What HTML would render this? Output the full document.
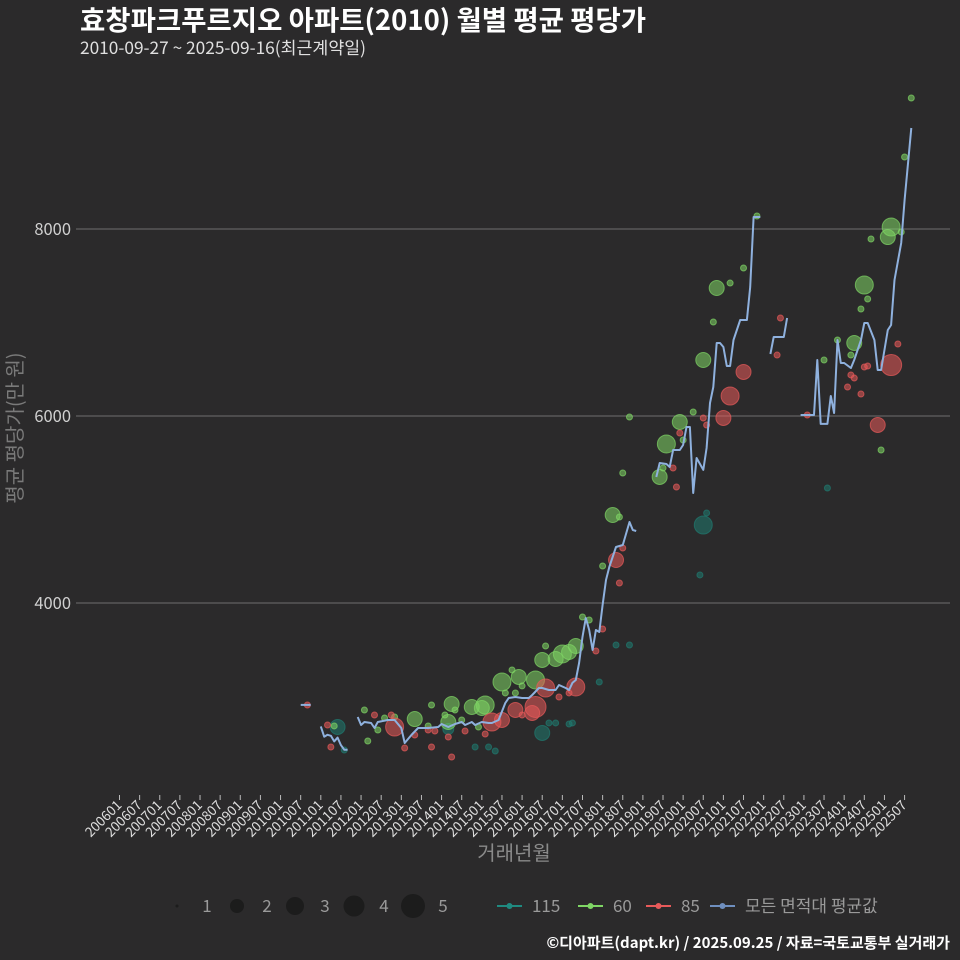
<!DOCTYPE html>
<html><head><meta charset="utf-8">
<style>
html,body{margin:0;padding:0;background:#2b2a2b;}
svg{display:block;font-family:"Noto Sans CJK KR","Liberation Sans",sans-serif;}
</style></head>
<body>
<svg id="chart" width="960" height="960" viewBox="0 0 960 960">
<rect width="960" height="960" fill="#2b2a2b"/>
<text x="80" y="30" fill="#ffffff" font-size="27.5" font-weight="bold">효창파크푸르지오 아파트(2010) 월별 평균 평당가</text>
<text x="80" y="54" fill="#e0e0e0" font-size="17.3">2010-09-27 ~ 2025-09-16(최근계약일)</text>
<g id="grid"></g>
<g id="yticks"></g>
<g id="xticks"></g>
<text x="0" y="0" transform="translate(22,428) rotate(-90)" text-anchor="middle" fill="#7a7a7a" font-size="20">평균 평당가(만 원)</text>
<text x="514" y="860" text-anchor="middle" fill="#8a8a8a" font-size="20">거래년월</text>
<g id="bubbles"></g>
<g id="lines"></g>
<g id="legend"></g>
<text x="950" y="948" text-anchor="end" fill="#ffffff" font-size="15" font-weight="bold">©디아파트(dapt.kr) / 2025.09.25 / 자료=국토교통부 실거래가</text>
</svg>
<script>
const yTicks=[4000,6000,8000];
const xTickLabels=[];for(let y=2006;y<=2025;y++){xTickLabels.push(y+"01");xTickLabels.push(y+"07");}
// average line (null = gap)
const lineMonths=["2010-07","2010-10",null,
"2011-01","2011-02","2011-03","2011-04","2011-05","2011-06","2011-07","2011-08","2011-09",null,
"2011-12","2012-01","2012-02","2012-04","2012-05","2012-06","2012-09","2012-11","2013-01","2013-02","2013-04","2013-06","2013-09","2013-12","2014-01","2014-03","2014-05","2014-07","2014-08","2014-10","2014-11","2015-01","2015-03","2015-04","2015-06","2015-08","2015-09","2015-11","2016-01","2016-03","2016-04","2016-06","2016-07","2016-09","2016-11","2016-12","2017-02","2017-03","2017-04","2017-05","2017-06","2017-07","2017-08","2017-09","2017-10","2017-11","2017-12","2018-01","2018-02","2018-03","2018-05","2018-07","2018-09","2018-10","2018-11",null,
"2019-05","2019-06","2019-08","2019-09","2019-10","2019-12","2020-01","2020-02","2020-03","2020-04","2020-05","2020-07","2020-08","2020-09","2020-10","2020-11","2020-12","2021-01","2021-02","2021-03","2021-04","2021-06","2021-08","2021-09","2021-10","2021-12",null,
"2022-03","2022-04","2022-07","2022-08",null,
"2022-12","2023-04","2023-05","2023-06","2023-08","2023-09","2023-10","2023-11","2023-12","2024-01","2024-03","2024-04","2024-06","2024-07","2024-08","2024-10","2024-11","2024-12","2025-02","2025-03","2025-04","2025-06","2025-07","2025-09"];
const lineValues=[2910,2910,null,
2680,2570,2590,2580,2520,2560,2480,2430,2430,null,
2781,2695,2727,2717,2663,2727,2749,2749,2663,2503,2588,2663,2663,2674,2706,2674,2706,2727,2695,2727,2695,2727,2717,2717,2749,2931,2984,2995,2984,2984,3016,3091,3091,3070,3070,3123,3091,3070,3145,3177,3358,3637,3840,3711,3497,3711,3690,3979,4246,4385,4599,4620,4866,4781,4770,null,
5348,5497,5487,5455,5636,5636,5690,5882,5882,5177,5551,5423,5658,6139,6310,6781,6781,6738,6535,6535,6813,7027,7027,7380,8128,8128,null,
6663,6845,6845,7048,null,
6011,6011,6599,5915,5915,6214,6032,6813,6567,6567,6513,6599,6813,6995,6995,6813,6492,6492,6920,6973,7455,7850,8310,9080];
// area 115
const t115Months=["2011-06","2011-08","2014-03","2014-11","2015-03","2015-05","2016-07","2016-09","2016-11","2017-03","2017-04","2017-12","2018-05","2018-09","2020-06","2020-07","2020-08","2023-08"];
const t115Values=[2674,2428,2652,2460,2460,2417,2610,2717,2717,2706,2717,3155,3551,3551,4300,4834,4963,5230];
const t115Counts=[3,1,2,1,1,1,3,1,1,1,1,1,1,1,1,4,1,1];
// area 60
const g60Months=["2011-05","2012-02","2012-03","2012-06","2012-08","2012-11","2013-05","2013-09","2013-10","2014-02","2014-03","2014-04","2014-05","2014-07","2014-10","2014-12","2015-01","2015-02","2015-07","2015-08","2015-10","2015-11","2015-12","2016-01","2016-05","2016-07","2016-08","2016-11","2017-01","2017-03","2017-05","2017-07","2017-09","2018-01","2018-04","2018-06","2018-07","2018-09","2019-06","2019-07","2019-08","2019-12","2020-01","2020-04","2020-07","2020-10","2020-11","2021-03","2021-07","2021-11","2023-07","2023-11","2024-03","2024-04","2024-06","2024-07","2024-08","2024-09","2024-12","2025-02","2025-03","2025-06","2025-07","2025-09"];
const g60Values=[2685,2856,2524,2642,2770,2781,2759,2685,2909,2802,2727,2920,2856,2749,2888,2674,2877,2909,3155,3038,3284,3038,3209,3113,3177,3391,3540,3401,3455,3476,3540,3850,3818,4396,4941,4920,5390,5989,5348,5444,5701,5936,5743,6043,6599,7005,7369,7422,7583,8139,6599,6813,6652,6781,7144,7401,7251,7893,5636,7914,8021,7968,8770,9401];
const g60Counts=[1,1,1,1,1,1,3,1,1,1,3,3,1,1,3,1,3,4,4,1,1,1,3,1,4,3,1,3,4,3,3,1,1,1,3,1,1,1,3,1,4,3,1,1,3,1,3,1,1,1,1,1,1,3,1,4,1,1,1,3,4,1,1,1];
// area 85
const r85Months=["2010-09","2011-03","2011-04","2012-05","2012-10","2012-11","2013-02","2013-05","2013-09","2013-10","2013-11","2014-03","2014-04","2014-08","2015-02","2015-04","2015-07","2015-11","2016-01","2016-04","2016-05","2016-08","2016-12","2017-03","2017-05","2017-11","2018-01","2018-05","2018-06","2018-07","2019-10","2019-11","2019-12","2020-07","2020-08","2021-01","2021-03","2021-07","2022-05","2022-06","2023-02","2024-02","2024-03","2024-04","2024-06","2024-07","2024-08","2024-11","2025-03","2025-05"];
const r85Values=[2909,2695,2460,2802,2802,2674,2449,2588,2642,2460,2631,2567,2353,2631,2599,2727,2749,2856,2802,2824,2888,3091,2995,3038,3102,3487,3722,4460,4214,4588,5444,5241,5818,5979,5904,5979,6214,6471,6652,7048,6011,6310,6439,6406,6235,6524,6535,5904,6545,6770];
const r85Counts=[1,1,1,1,1,4,1,1,1,1,1,1,1,1,1,4,3,3,1,3,5,4,1,1,4,1,1,3,1,1,1,1,1,1,1,3,4,3,1,1,1,1,1,1,1,1,1,3,5,1];

const NS="http://www.w3.org/2000/svg";
function mk(tag,attrs,parent){const e=document.createElementNS(NS,tag);for(const k in attrs)e.setAttribute(k,attrs[k]);parent.appendChild(e);return e;}
function monthIdx(s){const p=s.split("-");return (parseInt(p[0])-2006)*12+parseInt(p[1])-1;}
function xScale(s){return 119.5+monthIdx(s)*3.355;}
function yScale(v){return 229+(8000-v)*0.0935;}
function rScale(c){return [0,3,5.5,7.5,9,10.5][c];}

const grid=document.getElementById("grid"),yt=document.getElementById("yticks"),xt=document.getElementById("xticks");
yTicks.forEach(v=>{
  const l=mk("line",{x1:76,x2:950,y1:yScale(v),y2:yScale(v),stroke:"#6f6f6f","stroke-width":1},grid);
  
  
  const t=mk("text",{x:71,y:yScale(v)+6,"text-anchor":"end",fill:"#d0d0d0","font-size":16.5},yt);
  t.textContent=v;
  
  
});
xTickLabels.forEach(lb=>{
  const x=xScale(lb.slice(0,4)+"-"+lb.slice(4));
  const tk=mk("line",{x1:x,x2:x,y1:795,y2:800,stroke:"#bbbbbb","stroke-width":1},xt);
  
  
  const t=mk("text",{x:x+3,y:806,"text-anchor":"end",fill:"#dddddd","font-size":13.5,transform:"rotate(-45 "+(x+3)+" 806)"},xt);
  t.textContent=lb;
  
  
});

const bub=document.getElementById("bubbles");
function drawSeries(months,vals,counts,color,name){
  months.forEach((m,i)=>{
    const c=mk("circle",{cx:xScale(m),cy:yScale(vals[i]),r:rScale(counts[i]),fill:color,"fill-opacity":0.55,stroke:color,"stroke-opacity":0.7,"stroke-width":1},bub);
    
    
  });
}
drawSeries(t115Months,t115Values,t115Counts,"#1f7a70","area-115");
drawSeries(g60Months,g60Values,g60Counts,"#7fd665","area-60");
drawSeries(r85Months,r85Values,r85Counts,"#e85a5a","area-85");

const lg=document.getElementById("lines");
let seg=[];
function flush(){
  if(seg.length){
    const p=mk("polyline",{points:seg.join(" "),fill:"none",stroke:"#8fb1de","stroke-width":2,"stroke-linejoin":"round"},lg);
    
    
  }
  seg=[];
}
lineMonths.forEach((m,i)=>{
  if(m===null||lineValues[i]===null){flush();return;}
  seg.push(xScale(m).toFixed(1)+","+yScale(lineValues[i]).toFixed(1));
});
flush();

const leg=document.getElementById("legend");
const sizeLeg=[[177,1.5,"1"],[237,7,"2"],[295,9,"3"],[354,10.5,"4"],[413,12,"5"]];
sizeLeg.forEach(s=>{
  const c=mk("circle",{cx:s[0],cy:906,r:s[1],fill:"#1c1c1c"},leg);
  
  
  const t=mk("text",{x:s[0]+30,y:912,"text-anchor":"middle",fill:"#9a9a9a","font-size":17},leg);
  t.textContent=s[2];
  
  
});
const colLeg=[[497,"#1f8a80","115"],[578,"#7fd665","60"],[646,"#e85a5a","85"],[710,"#6f8fbf","모든 면적대 평균값"]];
colLeg.forEach(s=>{
  const l=mk("line",{x1:s[0],x2:s[0]+25,y1:906,y2:906,stroke:s[1],"stroke-width":2},leg);
  
  
  const c=mk("circle",{cx:s[0]+12.5,cy:906,r:3,fill:s[1]},leg);
  
  
  const t=mk("text",{x:s[0]+35,y:912,fill:"#9a9a9a","font-size":17},leg);
  t.textContent=s[2];
  
  
});
</script>
</body></html>
